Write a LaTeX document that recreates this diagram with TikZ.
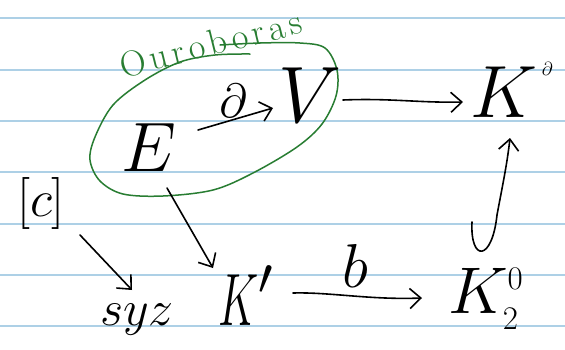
\RequirePackage{fix-cm}
\documentclass[tikz,border=0pt]{standalone}
\usepackage{graphicx}
\usetikzlibrary{arrows.meta}
\definecolor{rulecol}{RGB}{173,208,230}
\definecolor{ourocol}{RGB}{40,125,50}
\newcommand\lsp{\hspace{4.5pt}}
\begin{document}
\begin{tikzpicture}[x=1pt,y=-1pt,
  arr/.style={line width=1.6pt, line cap=round, line join=round,
    -{Straight Barb[length=11pt,width=20pt,line width=1.6pt]}},
  lbl/.style={inner sep=0pt, outer sep=0pt, anchor=base},
  lblw/.style={inner sep=0pt, outer sep=0pt, anchor=base west},
]
\useasboundingbox[fill=white] (0,0) rectangle (565,349);
\foreach \yy in {18,70,121,172,224,275,326}
  \draw[rulecol, line width=1.4pt] (0,\yy) -- (565,\yy);

% green ouroboros loop
\draw[ourocol, line width=1.5pt, line cap=round] plot[smooth, tension=0.55] coordinates {
  (220,45) (260,43) (300,43) (325,48) (337,70) (336,96) (322,124) (297,147)
  (253,173) (213,190) (163,196) (123,194) (100,181) (90,160) (95,137)
  (113,105) (145,80) (180,62) (215,55) (250,54)};
\node[lblw, rotate=14, text=ourocol] (ouro) at (123,78)
  {\fontsize{36}{36}\selectfont O\lsp u\lsp r\lsp o\lsp b\lsp o\lsp r\lsp a\lsp s};

% nodes
\node[lbl] (E) at (149,171) {\fontsize{70}{70}\selectfont$E$};
\node[lbl] (V) at (310,122) {\fontsize{80}{80}\selectfont$V$};
\node[lbl] (d) at (233,117) {\fontsize{48}{48}\selectfont$\partial$};
\node[lblw] (Kd) at (470,117) {\fontsize{74}{74}\selectfont$K$\hspace{5pt}\raisebox{42pt}{\fontsize{19}{19}\selectfont$\partial$}};
\node[lblw] (K1) at (218,325) {\fontsize{74}{74}\selectfont$\scalebox{0.6}[1]{$K$}^{\prime}$};
\node[lblw] (K2) at (448,313) {\fontsize{66}{66}\selectfont$K^{\scriptscriptstyle 0}_{\scriptscriptstyle 2}$};
\node[lbl] (b) at (355,287) {\fontsize{62}{62}\selectfont$b$};
\node[lbl] (c) at (41,216) {\fontsize{52}{52}\selectfont$[c]$};
\node[lblw] (syz) at (100,325) {\fontsize{50}{50}\selectfont$syz$};

% connectors
\draw[arr] ([shift={(49,-41)}]E.base) -- ([shift={(-37,-14)}]V.base);
\draw[arr] ([shift={(33,-22)}]V.base) .. controls (390,98) and (420,103) .. ([shift={(-7,-15)}]Kd.base west);
\draw[arr] ([shift={(24,-91)}]K2.base west) .. controls (470,262) and (492,262) .. (497,215)
  .. controls (502,188) and (507,165) .. ([shift={(40,21)}]Kd.base west);
\draw[arr] ([shift={(18,17)}]E.base) -- ([shift={(-5,-57)}]K1.base west);
\draw[arr] ([shift={(39,19)}]c.base) -- ([shift={(32,-35)}]syz.base west);
\draw[arr] ([shift={(75,-32)}]K1.base west) .. controls (330,292) and (370,300) .. ([shift={(-26,-15)}]K2.base west);
\end{tikzpicture}
\end{document}
